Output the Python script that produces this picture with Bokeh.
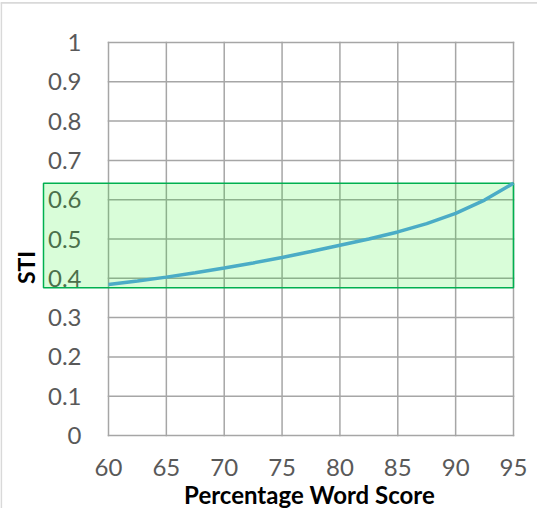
from bokeh.plotting import figure
from bokeh.models import Range1d, ColumnDataSource
from bokeh.core.properties import value
from bokeh.embed import file_html
from bokeh.resources import INLINE
import math

# ---- data ----
word_score = [60, 62.5, 65, 67.5, 70, 72.5, 75, 77.5, 80, 82.5, 85, 87.5, 90, 92.5, 95]
sti = [0.384, 0.393, 0.403, 0.414, 0.426, 0.439, 0.453, 0.468, 0.484, 0.500,
       0.518, 0.539, 0.565, 0.599, 0.642]

x_ticks = [60, 65, 70, 75, 80, 85, 90, 95]
x_tick_labels = ["60", "65", "70", "75", "80", "85", "90", "95"]
y_ticks = [0, 0.1, 0.2, 0.3, 0.4, 0.5, 0.6, 0.7, 0.8, 0.9, 1]
y_tick_labels = ["0", "0.1", "0.2", "0.3", "0.4", "0.5", "0.6", "0.7", "0.8", "0.9", "1"]

band_low = 0.376
band_high = 0.642

x_title = "Percentage Word Score"
y_title = "STI"

# ---- layout (page pixels) ----
FIG_X0, FIG_Y0 = 8, 8
W, H = 537, 508
PLOT_L, PLOT_R, PLOT_T, PLOT_B = 116, 521, 50, 443
BAND_L_PX = 51

x_min, x_max = x_ticks[0], x_ticks[-1]
y_min, y_max = y_ticks[0], y_ticks[-1]
sx = (PLOT_R - PLOT_L) / (x_max - x_min)
sy = (PLOT_B - PLOT_T) / (y_max - y_min)


def px_x(px):
    return x_min + (px - PLOT_L) / sx


def px_y(py):
    return y_min + (PLOT_B - py) / sy


FONT = "Lato"
GRID = "#a6a6a6"
LABEL = "#595959"

p = figure(width=W, height=H, output_backend="svg", toolbar_location=None,
           x_range=Range1d(px_x(FIG_X0), px_x(FIG_X0 + W)),
           y_range=Range1d(px_y(FIG_Y0 + H), px_y(FIG_Y0)),
           x_axis_location=None, y_axis_location=None,
           min_border=0, min_border_left=0, min_border_right=0,
           min_border_top=0, min_border_bottom=0,
           background_fill_color="white", border_fill_color="white",
           outline_line_color=None)
p.grid.visible = False

# chart-area border (light grey, left and top edges visible)
p.segment(x0=[px_x(FIG_X0 + 0.75), px_x(FIG_X0)], y0=[px_y(10), px_y(10.3)],
          x1=[px_x(FIG_X0 + 0.75), px_x(FIG_X0 + W)], y1=[px_y(FIG_Y0 + H), px_y(10.3)],
          line_color="#d9d9d9", line_width=1.75)

# gridlines
p.segment(x0=[x_min] * len(y_ticks), x1=[x_max] * len(y_ticks), y0=y_ticks, y1=y_ticks,
          line_color=GRID, line_width=1.5, line_cap="square")
p.segment(x0=x_ticks, x1=x_ticks, y0=[y_min] * len(x_ticks), y1=[y_max] * len(x_ticks),
          line_color=GRID, line_width=1.5, line_cap="square")

# tick labels
p.text(x=[px_x(PLOT_L - 27)] * len(y_ticks), y=y_ticks, text=y_tick_labels,
       text_font=value(FONT), text_font_size="24px", text_color=LABEL,
       text_align="right", text_baseline="middle")
p.text(x=x_ticks, y=[px_y(474.5)] * len(x_ticks), text=x_tick_labels,
       text_font=value(FONT), text_font_size="24px", text_color=LABEL,
       text_align="center", text_baseline="middle")

# axis titles
p.text(x=[px_x(317)], y=[px_y(502)], text=[x_title],
       text_font=value(FONT), text_font_size="24px", text_font_style="bold",
       text_color="black", text_align="center", text_baseline="middle")
p.text(x=[px_x(33.5)], y=[px_y(275)], text=[y_title], angle=math.pi / 2,
       text_font=value(FONT), text_font_size="23px", text_font_style="bold",
       text_color="black", text_align="center", text_baseline="middle")

# green band (drawn over the grid and labels, as in the reference)
p.quad(left=[px_x(BAND_L_PX)], right=[x_max], bottom=[band_low], top=[band_high],
       fill_color="#00f000", fill_alpha=0.15, line_color="#00b050", line_width=1.5)

# curve
src = ColumnDataSource(data=dict(x=word_score, y=sti))
p.line("x", "y", source=src, line_color="#4bacc6", line_width=3.5)

open("out.html", "w").write(file_html(p, INLINE))
